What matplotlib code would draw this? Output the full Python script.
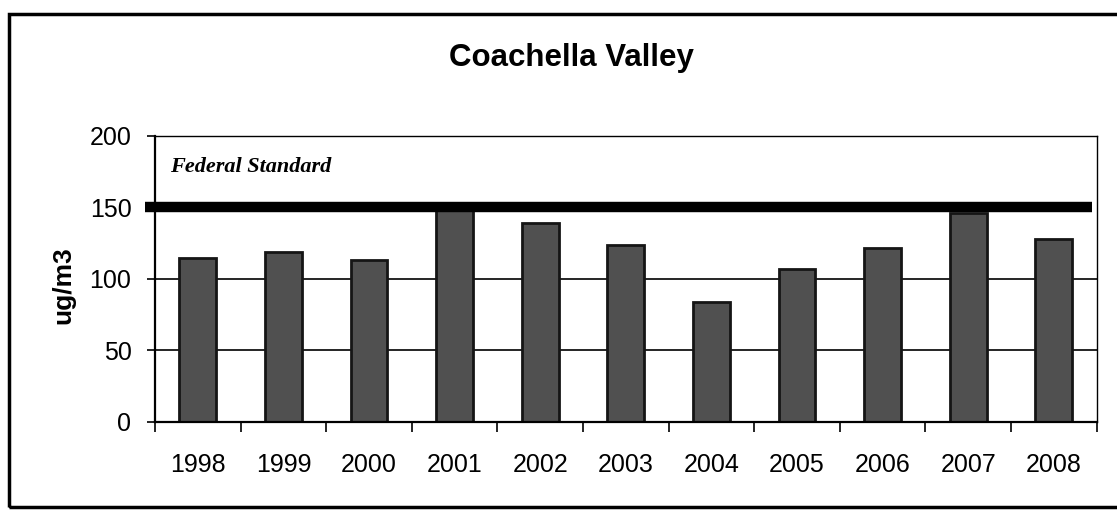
import matplotlib.pyplot as plt
from matplotlib.patches import Rectangle

#### PM10 annual maxima, Coachella Valley

years = ['1998', '1999', '2000', '2001', '2002', '2003',
         '2004', '2005', '2006', '2007', '2008']
pm10 = [115, 119, 113, 149, 139, 124, 84, 107, 122, 146, 128]
federal_std = 150

#### Figure layout

fig = plt.figure(figsize=(11.17, 5.11), dpi=100)
ax = fig.add_axes([0.1388, 0.1742, 0.843, 0.5597])

# outer frame around the whole chart
fig.patches.append(Rectangle((9 / 1117, 4 / 511), 1.2, 493 / 511,
                             transform=fig.transFigure, fill=False,
                             edgecolor='black', linewidth=2.5))

xpos = [i + 0.5 for i in range(len(years))]

for y in [50, 100]:
    ax.axhline(y, color='black', linewidth=1.2, zorder=1)

ax.bar(xpos, pm10, width=0.43, color='#505050', edgecolor='#151515',
       linewidth=2, zorder=2)

# federal standard line
ax.plot([-0.12, 10.94], [federal_std, federal_std], color='black',
        linewidth=7.5, solid_capstyle='butt', clip_on=False, zorder=3)
ax.text(0.18, 178, 'Federal Standard', fontsize=16, fontstyle='italic',
        fontweight='bold', family='Liberation Serif', va='center')

ax.set_xlim(0, 11)
ax.set_ylim(0, 200)
ax.set_yticks([0, 50, 100, 150, 200])
ax.set_yticklabels(['0', '50', '100', '150', '200'],
                   fontsize=18, family='Liberation Sans')
ax.set_xticks(xpos)
ax.set_xticklabels(years, fontsize=18, family='Liberation Sans')
ax.set_xticks(range(12), minor=True)
ax.tick_params(axis='x', which='major', length=0, pad=22)
ax.tick_params(axis='x', which='minor', length=7, width=1.2,
               direction='out')
ax.tick_params(axis='y', length=6, width=1.2, direction='out', pad=11)

for s in ['left', 'bottom']:
    ax.spines[s].set_linewidth(1.6)
for s in ['top', 'right']:
    ax.spines[s].set_linewidth(1.0)

ax.set_ylabel('ug/m3', fontsize=19, fontweight='bold',
              family='Liberation Sans')
ax.yaxis.set_label_coords(-0.085, 0.48)

fig.text(0.512, 0.886, 'Coachella Valley', fontsize=22.5, fontweight='bold',
         family='Liberation Sans', ha='center', va='center')

fig.savefig('out.png', dpi=100)
